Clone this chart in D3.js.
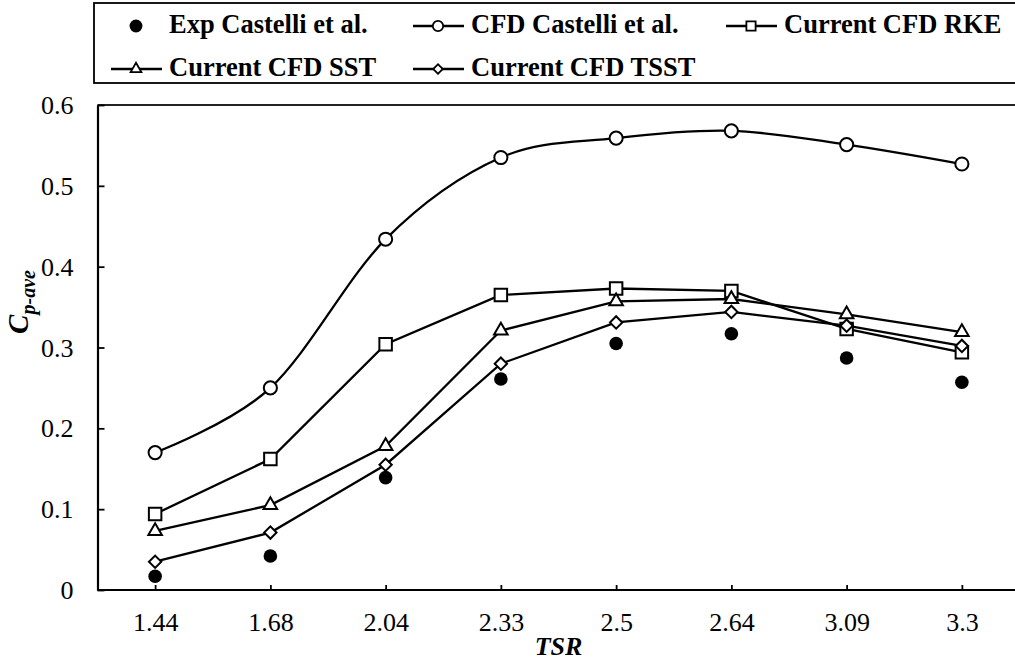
<!DOCTYPE html>
<html>
<head>
<meta charset="utf-8">
<script src="https://cdn.jsdelivr.net/npm/d3@7"></script>
<style>
  body { margin: 0; background: #fff; }
  text { font-family: 'Liberation Serif', 'Times New Roman', serif; fill: #000; }
</style>
</head>
<body>
<div id="container"></div>
<script>
const WIDTH = 1015;
const HEIGHT = 661;
const PLOT = { LEFT: 97.5, RIGHT: 1019.5, TOP: 105, BOTTOM: 590 };

// data
const tsr = ['1.44', '1.68', '2.04', '2.33', '2.5', '2.64', '3.09', '3.3'];
const expCastelli = [0.017, 0.042, 0.139, 0.261, 0.305, 0.317, 0.287, 0.257];
const cfdCastelli = [0.170, 0.250, 0.434, 0.535, 0.559, 0.568, 0.551, 0.527];
const cfdRKE = [0.094, 0.162, 0.304, 0.365, 0.373, 0.370, 0.323, 0.294];
const cfdSST = [0.073, 0.105, 0.178, 0.321, 0.357, 0.360, 0.341, 0.319];
const cfdTSST = [0.035, 0.071, 0.155, 0.280, 0.331, 0.344, 0.327, 0.302];
const yTicks = [0, 0.1, 0.2, 0.3, 0.4, 0.5, 0.6];

const seriesNames = ['Exp Castelli et al.', 'CFD Castelli et al.', 'Current CFD RKE',
                     'Current CFD SST', 'Current CFD TSST'];
const seriesValues = [expCastelli, cfdCastelli, cfdRKE, cfdSST, cfdTSST];

const series = seriesNames.map((name, i) => ({
    name: name,
    values: seriesValues[i],
    marker: ['dot', 'circle', 'square', 'triangle', 'diamond'][i],
    line: i > 0,
    smooth: i === 1
}));

const svg = d3.select('#container')
              .append('svg')
                .attr('width', WIDTH)
                .attr('height', HEIGHT);

const xscale = d3.scalePoint()
                 .domain(tsr)
                 .range([PLOT.LEFT, PLOT.RIGHT])
                 .padding(0.5);
const yscale = d3.scaleLinear()
                 .domain([0, 0.6])
                 .range([PLOT.BOTTOM, PLOT.TOP]);

// top border of plot area
svg.append('line')
     .attr('x1', PLOT.LEFT)
     .attr('x2', PLOT.RIGHT)
     .attr('y1', PLOT.TOP)
     .attr('y2', PLOT.TOP)
     .attr('stroke', '#222')
     .attr('stroke-width', 1.8);

const xAxis = svg.append('g')
                 .attr('transform', `translate(0, ${PLOT.BOTTOM})`)
                 .call(d3.axisBottom(xscale).tickSize(-5).tickSizeOuter(0));
xAxis.select('.domain')
     .attr('d', `M${PLOT.LEFT},0H${PLOT.RIGHT}`)
     .attr('stroke-width', 2.2);
xAxis.selectAll('.tick line').attr('stroke-width', 1.8);
xAxis.selectAll('.tick text')
     .attr('y', 41)
     .attr('dy', null)
     .style('font-size', '26px');

const yAxis = svg.append('g')
                 .attr('transform', `translate(${PLOT.LEFT}, 0)`)
                 .call(d3.axisLeft(yscale)
                         .tickValues(yTicks)
                         .tickSize(-7)
                         .tickSizeOuter(0)
                         .tickPadding(24)
                         .tickFormat(d3.format('.1~f')));
yAxis.select('.domain').attr('stroke-width', 2.2);
yAxis.selectAll('.tick line').attr('stroke-width', 1.8);
yAxis.selectAll('.tick text')
     .attr('dy', '0.33em')
     .style('font-size', '26px');

svg.selectAll('.domain, .tick line').attr('stroke', '#000');
svg.selectAll('.tick text').attr('font-family', null);

// axis titles
svg.append('text')
     .attr('x', (PLOT.LEFT + PLOT.RIGHT) / 2)
     .attr('y', 655)
     .attr('text-anchor', 'middle')
     .style('font-size', '26px')
     .style('font-weight', 'bold')
     .style('font-style', 'italic')
     .text('TSR');

const yTitle = svg.append('text')
                    .attr('transform', 'translate(28, 302) rotate(-90)')
                    .attr('text-anchor', 'middle')
                    .style('font-weight', 'bold')
                    .style('font-style', 'italic');
yTitle.append('tspan')
        .style('font-size', '29px')
        .text('C');
yTitle.append('tspan')
        .attr('dy', 7)
        .style('font-size', '20px')
        .text('p-ave');

const symbolPath = (marker) => {
    if (marker === 'dot' ) return d3.symbol(d3.symbolCircle, 145)();
    if (marker === 'circle') return d3.symbol(d3.symbolCircle, 135)();
    if (marker === 'square') return d3.symbol(d3.symbolSquare, 156)();
    if (marker === 'triangle') return d3.symbol(d3.symbolTriangle, 80)();
    return d3.symbol(d3.symbolSquare, 76)();
};
const symbolRotate = (marker) => marker === 'diamond' ? ' rotate(45)' : '';

const drawMarker = (g, marker, x, y) => {
    g.append('path')
       .attr('d', symbolPath(marker))
       .attr('transform', `translate(${x}, ${y})${symbolRotate(marker)}`)
       .attr('fill', marker === 'dot' ? '#000' : '#fff')
       .attr('stroke', '#000')
       .attr('stroke-width', marker === 'dot' ? 0 : 2);
};

const plot = svg.append('g').attr('id', 'plot');

series.forEach(s => {
    const g = plot.append('g');
    if (s.line) {
        const line = d3.line()
                       .x((d, i) => xscale(tsr[i]))
                       .y(d => yscale(d))
                       .curve(s.smooth ? d3.curveCardinal.tension(0) : d3.curveLinear);
        g.append('path')
           .datum(s.values)
           .attr('d', line)
           .attr('fill', 'none')
           .attr('stroke', '#000')
           .attr('stroke-width', 2.3);
    }
    s.values.forEach((v, i) => drawMarker(g, s.marker, xscale(tsr[i]), yscale(v)));
});

// legend
const LEGEND = { LEFT: 94, TOP: 3, HEIGHT: 80, COLS: [136, 438, 751], ROWS: [24, 67] };

svg.append('rect')
     .attr('x', LEGEND.LEFT)
     .attr('y', LEGEND.TOP)
     .attr('width', WIDTH)
     .attr('height', LEGEND.HEIGHT)
     .attr('fill', 'none')
     .attr('stroke', '#000')
     .attr('stroke-width', 1.8);

series.forEach((s, i) => {
    const cx = LEGEND.COLS[i % 3];
    const cy = LEGEND.ROWS[Math.floor(i / 3)];
    const g = svg.append('g').attr('class', 'legend-item');
    if (s.line) {
        g.append('line')
           .attr('x1', cx - 25)
           .attr('x2', cx + 26)
           .attr('y1', cy + 2)
           .attr('y2', cy + 2)
           .attr('stroke', '#000')
           .attr('stroke-width', 2.3);
    }
    const m = s.marker;
    g.append('path')
       .attr('d', m === 'dot' ? d3.symbol(d3.symbolCircle, 130)()
                 : m === 'triangle' ? d3.symbol(d3.symbolTriangle, 50)()
                 : m === 'diamond' ? d3.symbol(d3.symbolSquare, 45)()
                 : d3.symbol(m === 'circle' ? d3.symbolCircle : d3.symbolSquare, 85)())
       .attr('transform', `translate(${cx}, ${cy + 2})${symbolRotate(m)}`)
       .attr('fill', m === 'dot' ? '#000' : '#fff')
       .attr('stroke', '#000')
       .attr('stroke-width', m === 'dot' ? 0 : 1.8);
    g.append('text')
       .attr('x', cx + 33)
       .attr('y', cy + 9)
       .style('font-family', "'Liberation Serif', serif")
       .style('font-size', '26.5px')
       .style('font-weight', 'bold')
       .text(s.name);
});
</script>
</body>
</html>
